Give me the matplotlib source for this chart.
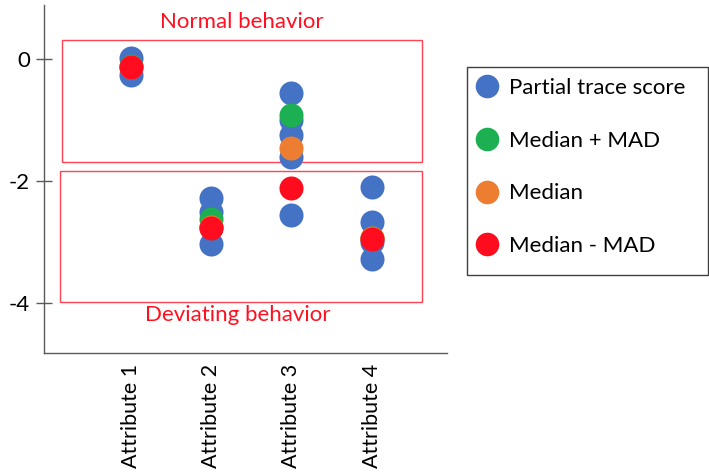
import matplotlib
matplotlib.use("Agg")
import matplotlib.pyplot as plt
from matplotlib.patches import Rectangle
from matplotlib.lines import Line2D

plt.rcParams['font.family'] = ['Lato', 'DejaVu Sans']

categories = ["Attribute 1", "Attribute 2", "Attribute 3", "Attribute 4"]
partial_scores = [
    [0.02, -0.26],
    [-2.27, -2.5, -2.75, -3.03],
    [-0.56, -1.0, -1.25, -1.6, -2.55],
    [-2.09, -2.67, -3.0, -3.28],
]
median_plus_mad = [-0.11, -2.62, -0.92, -2.93]
median = [-0.12, -2.76, -1.46, -2.94]
median_minus_mad = [-0.12, -2.77, -2.12, -2.95]
yticks = [0, -2, -4]

c_blue = '#4472C4'
c_green = '#1DB052'
c_orange = '#ED7D31'
c_red = '#FF0D1F'
box_col = '#FF4454'

fig = plt.figure(figsize=(7.09, 4.73), dpi=100)
ax = fig.add_axes([44/709, 120/473, 403/709, 348/473])

ms = 300
xs = list(range(1, len(categories) + 1))
for x, vals in zip(xs, partial_scores):
    ax.scatter([x]*len(vals), vals, s=ms, color=c_blue, zorder=3, linewidths=0)
ax.scatter(xs, median_plus_mad, s=ms, color=c_green, zorder=4, linewidths=0)
ax.scatter(xs, median, s=ms, color=c_orange, zorder=5, linewidths=0)
ax.scatter(xs, median_minus_mad, s=ms, color=c_red, zorder=6, linewidths=0)

ax.add_patch(Rectangle((0.14, -1.68), 4.63-0.14, 0.31+1.68, fill=False,
                       edgecolor=box_col, linewidth=1.0, zorder=2))
ax.add_patch(Rectangle((0.115, -3.98), 4.63-0.115, -1.83+3.98, fill=False,
                       edgecolor=box_col, linewidth=1.0, zorder=2))
ax.text(2.38, 0.61, "Normal behavior", color='#FF1020', fontsize=16,
        ha='center', va='center')
ax.text(2.33, -4.2, "Deviating behavior", color='#FF1020', fontsize=16,
        ha='center', va='center')

ax.set_xlim(-0.085, 4.94)
ax.set_ylim(-4.82, 0.89)
ax.set_xticks(xs)
ax.set_xticklabels(categories, rotation=90, fontsize=15.5)
ax.tick_params(axis='x', length=0, pad=8)
ax.set_yticks(yticks)
ax.set_yticklabels([str(v) for v in yticks], fontsize=16)
ax.tick_params(axis='y', direction='inout', length=12, width=1, color='#595959', pad=4)
for s in ['top', 'right']:
    ax.spines[s].set_visible(False)
for s in ['left', 'bottom']:
    ax.spines[s].set_color('#595959')
    ax.spines[s].set_linewidth(1)

handles = [
    Line2D([], [], marker='o', linestyle='', markersize=17, color=c_blue, markeredgewidth=0),
    Line2D([], [], marker='o', linestyle='', markersize=17, color=c_green, markeredgewidth=0),
    Line2D([], [], marker='o', linestyle='', markersize=17, color=c_orange, markeredgewidth=0),
    Line2D([], [], marker='o', linestyle='', markersize=17, color=c_red, markeredgewidth=0),
]
labels = ["Partial trace score", "Median + MAD", "Median", "Median - MAD"]
leg = fig.legend(handles, labels, loc='upper left',
                 bbox_to_anchor=(473/709, 1 - 78/473),
                 fontsize=16, frameon=False,
                 borderaxespad=0, labelspacing=1.47, handletextpad=0.3,
                 handlelength=1.3, borderpad=0.0)
fig.patches.append(Rectangle((467/709, 1 - 275/473), 241/709, 208/473,
                             transform=fig.transFigure, fill=False,
                             edgecolor='#404040', linewidth=1, figure=fig))

fig.savefig('out.png', dpi=100)
